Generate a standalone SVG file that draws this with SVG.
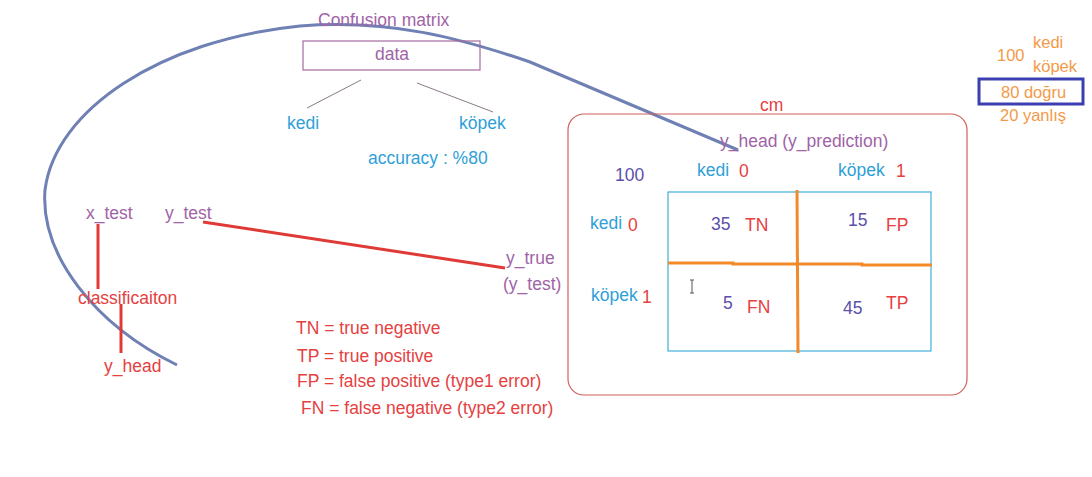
<svg xmlns="http://www.w3.org/2000/svg" width="1092" height="477" viewBox="0 0 1092 477">
<style>
text{font-family:"Liberation Sans",Arial,sans-serif;font-size:17.5px}
.pu{fill:#a064a6}.bl{fill:#2f9fd8}.rd{fill:#e5413f}.or{fill:#f39a48;font-size:16.5px}.nv{fill:#5b50aa}
.red{stroke:#e03a36;stroke-width:3;fill:none}
.org{stroke:#f28a2a;stroke-width:3;fill:none}
</style>
<rect width="1092" height="477" fill="#fff"/>
<g id="connectors">
<path d="M177,365 C95,325 40,255 45,190 C55,110 160,40 300,26 C390,19 460,38 530,62 L738,150" fill="none" stroke="#6f80b4" stroke-width="3"/>
<line x1="361" y1="80" x2="307" y2="108" stroke="#8a7a88" stroke-width="1"/>
<line x1="417" y1="83" x2="493" y2="112" stroke="#8a7a88" stroke-width="1"/>
<line class="red" x1="98" y1="224" x2="98" y2="289"/>
<line class="red" x1="121" y1="304" x2="121" y2="353"/>
<line class="red" x1="203" y1="222" x2="505" y2="268"/>
</g>
<g id="title"><text class="pu" x="318" y="26" font-size="19.5">Confusion matrix</text></g>
<g id="data">
<rect x="303" y="41" width="177" height="29" fill="none" stroke="#a46a9e" stroke-width="1.2"/>
<text class="pu" x="392" y="60" text-anchor="middle">data</text>
</g>
<g id="kedi-top"><text class="bl" x="287" y="129">kedi</text></g>
<g id="kopek-top"><text class="bl" x="459" y="129">köpek</text></g>
<g id="accuracy"><text class="bl" x="368" y="164">accuracy : %80</text></g>
<g id="counts">
<text class="or" x="997" y="61">100</text>
<text class="or" x="1033" y="48">kedi</text>
<text class="or" x="1033" y="72">köpek</text>
<rect x="979" y="79" width="104" height="25" fill="none" stroke="#3b3fb2" stroke-width="3"/>
<text class="or" x="1001" y="98">80 doğru</text>
<text class="or" x="1000" y="121">20 yanlış</text>
</g>
<g id="cm">
<text class="rd" x="760" y="111">cm</text>
<rect x="568" y="114" width="399" height="281" rx="16" fill="none" stroke="#d0605e" stroke-width="1.2"/>
<text class="pu" x="720" y="147">y_head (y_prediction)</text>
<text class="nv" x="615" y="181">100</text>
<text class="bl" x="697" y="176">kedi</text><text class="rd" x="739" y="177">0</text>
<text class="bl" x="838" y="176">köpek</text><text class="rd" x="896" y="177">1</text>
<text class="bl" x="590" y="229">kedi</text><text class="rd" x="628" y="231">0</text>
<text class="bl" x="591" y="301">köpek</text><text class="rd" x="642" y="303">1</text>
<rect x="668" y="192" width="263" height="159" fill="none" stroke="#40b0d8" stroke-width="1.2"/>
<line class="org" x1="797" y1="190" x2="798" y2="353"/>
<polyline class="org" points="668,263 733,263 733,264 862,264 862,265 932,265"/>
<text class="nv" x="711" y="230">35</text><text class="rd" x="745" y="231">TN</text>
<text class="nv" x="848" y="226">15</text><text class="rd" x="886" y="231">FP</text>
<text class="nv" x="723" y="309">5</text><text class="rd" x="747" y="313">FN</text>
<text class="nv" x="843" y="314">45</text><text class="rd" x="886" y="309">TP</text>
<path d="M690,280 h4 M692,280 v13 M690,293 h4" stroke="#555" stroke-width="1" fill="none"/>
</g>
<g id="y_true"><text class="pu" x="506" y="264">y_true</text><text class="pu" x="503" y="290">(y_test)</text></g>
<g id="x_test"><text class="pu" x="86" y="219">x_test</text></g>
<g id="y_test"><text class="pu" x="165" y="219">y_test</text></g>
<g id="classification"><text class="rd" x="78" y="304">classificaiton</text></g>
<g id="y_head"><text class="rd" x="104" y="372">y_head</text></g>
<g id="legend">
<text class="rd" x="296" y="334">TN = true negative</text>
<text class="rd" x="297" y="362">TP = true positive</text>
<text class="rd" x="297" y="387">FP = false positive (type1 error)</text>
<text class="rd" x="301" y="414">FN = false negative (type2 error)</text>
</g>
</svg>
